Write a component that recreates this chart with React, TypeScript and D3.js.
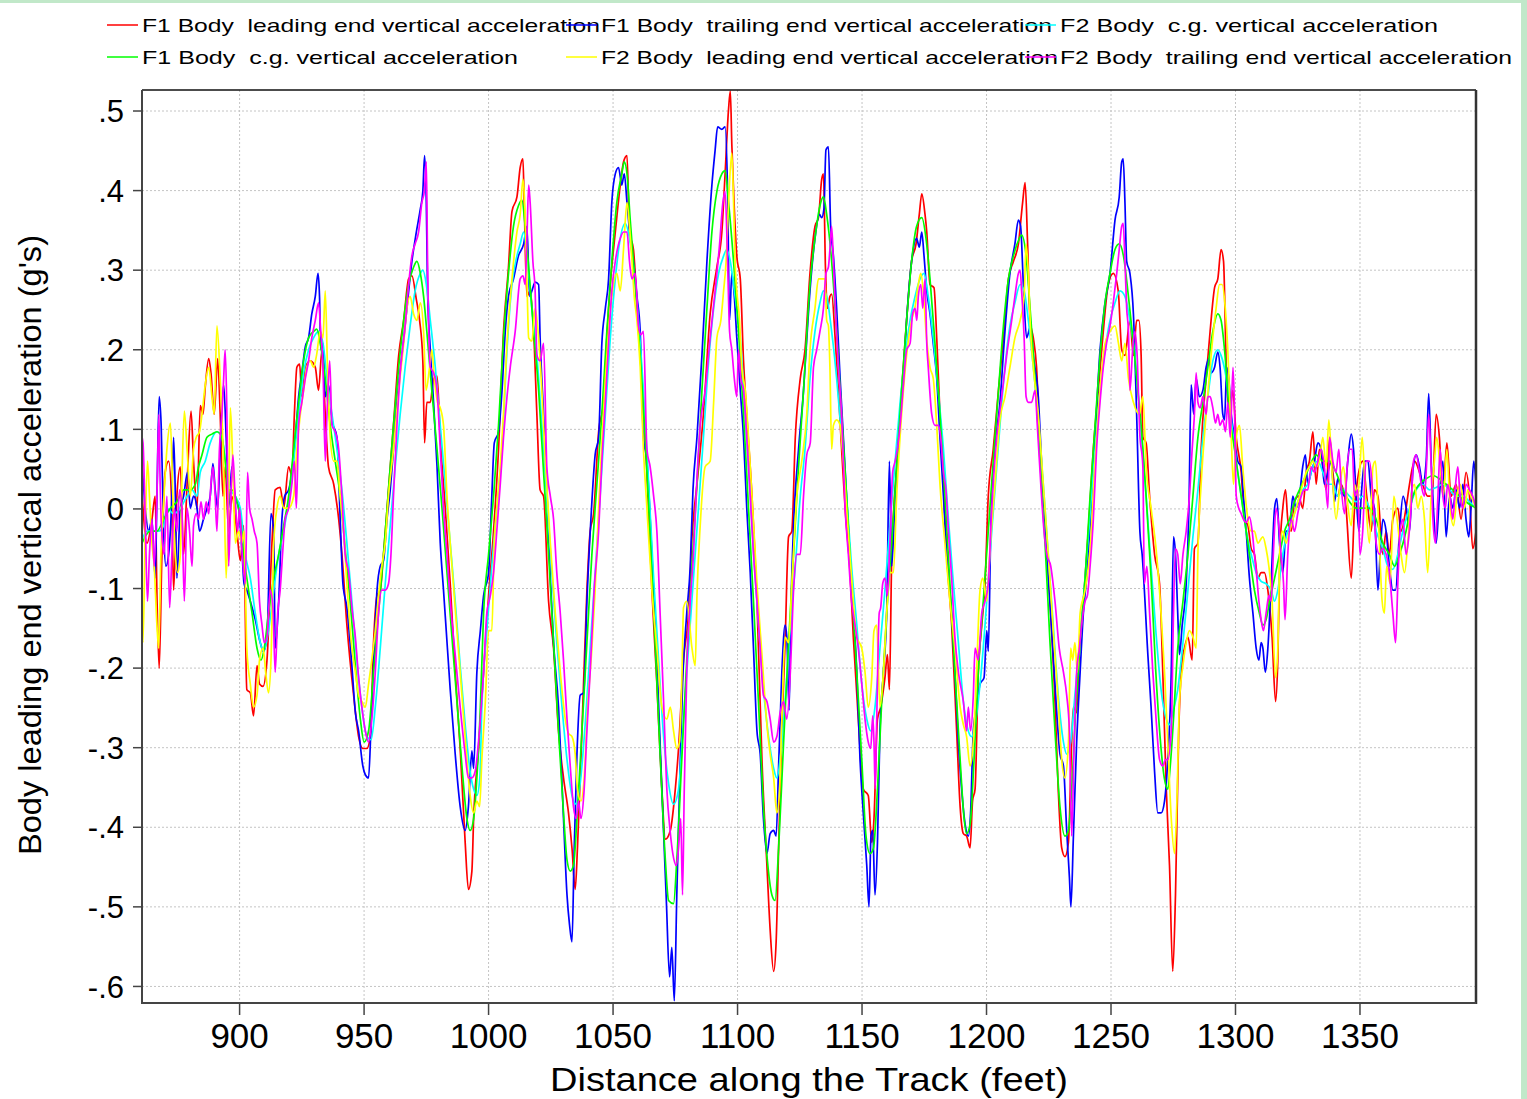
import React from "react";
import * as d3 from "d3";

type Pt = [number, number];

// F1 Body leading end vertical acceleration (red)
const f1Lead: Pt[] = [[860.8,0.02],[862.8,-0.043],[864.8,-0.013],[866.1,0.016],[866.8,-0.109],[867.7,-0.2],[868.8,-0.057],[870.1,0.046],[871.5,0.06],[872.8,0],[873.5,-0.102],[874.8,0.016],[876.2,0.053],[877.5,-0.057],[878.9,0.031],[880.5,0.123],[881.5,0.06],[882.9,0],[884.2,0.13],[885.3,0.119],[886.2,0.153],[887.6,0.189],[888.5,0.171],[889.8,0.119],[891.2,0.189],[892.2,0.119],[893.3,0.016],[894.2,0.053],[895.6,-0.028],[896.9,0.016],[898.9,-0.028],[900.3,-0.065],[901.6,-0.021],[902.9,-0.227],[904.3,-0.231],[905.6,-0.26],[907,-0.197],[908,-0.22],[909.4,-0.223],[911,-0.19],[913,-0.043],[914.3,0.024],[916.3,0.027],[917.7,0.001],[919.7,0.053],[921,0.042],[922,0.119],[923,0.178],[924.1,0.182],[925,0.141],[926.4,0.178],[928.4,0.186],[930.4,0.178],[931.7,0.149],[933.1,0.2],[934.4,0.119],[935.7,0.053],[937.8,0.031],[939.8,-0.013],[941.1,-0.057],[943.1,-0.146],[945.8,-0.234],[947.8,-0.286],[949.5,-0.301],[951.1,-0.301],[952.5,-0.286],[953.8,-0.168],[955.2,-0.109],[956.5,-0.102],[957.8,-0.057],[959.8,0.024],[961.8,0.105],[963.9,0.193],[965.9,0.237],[967.9,0.289],[969.2,0.293],[971,0.263],[972.3,0.237],[973.6,0.186],[974.3,0.083],[975.2,0.134],[976.6,0.134],[977.9,0.164],[979.3,0.167],[980.6,0.09],[982.6,0.001],[984.6,-0.094],[986.6,-0.205],[988.6,-0.301],[990.6,-0.419],[991.9,-0.478],[993.3,-0.455],[994,-0.389],[996,-0.301],[998,-0.205],[1000,-0.109],[1002,-0.028],[1004,0.075],[1006,0.223],[1008,0.304],[1009.4,0.374],[1011.4,0.392],[1012.7,0.429],[1013.8,0.44],[1014.3,0.385],[1015.4,0.267],[1016.7,0.274],[1018.1,0.223],[1019.4,0.119],[1020.7,0.024],[1022.1,0.016],[1024.1,-0.116],[1026.1,-0.175],[1028.1,-0.279],[1030.1,-0.338],[1032.1,-0.382],[1033.5,-0.426],[1034.8,-0.478],[1035.7,-0.426],[1037.5,-0.279],[1039.5,-0.102],[1040.8,-0.028],[1042.2,-0.006],[1044.2,0.097],[1046.2,0.134],[1047.5,0.215],[1048.9,0.282],[1050.9,0.348],[1052.9,0.407],[1054.2,0.436],[1055.6,0.444],[1056.6,0.348],[1058.2,0.326],[1059.6,0.259],[1061.6,0.164],[1063.6,0.046],[1065.6,-0.102],[1067.6,-0.22],[1069.6,-0.352],[1071,-0.415],[1073,-0.404],[1075,-0.352],[1076.3,-0.301],[1078.3,-0.19],[1080.3,-0.131],[1081.7,-0.035],[1083.7,0.031],[1086.3,0.119],[1089,0.245],[1091.7,0.304],[1093.7,0.348],[1095,0.421],[1096.4,0.503],[1097.1,0.525],[1097.7,0.458],[1098.7,0.377],[1099.7,0.318],[1101.1,0.289],[1102.4,0.186],[1103.7,0.119],[1105.8,0.016],[1107.8,-0.116],[1109.8,-0.315],[1111.8,-0.448],[1113.1,-0.529],[1114.5,-0.581],[1115.5,-0.544],[1116.5,-0.426],[1117.8,-0.279],[1119.1,-0.168],[1120.5,-0.035],[1121.8,-0.028],[1123.2,0.09],[1125.2,0.164],[1127.1,0.2],[1129.1,0.296],[1131.1,0.355],[1132.5,0.366],[1133.8,0.414],[1134.5,0.421],[1135.3,0.304],[1136.1,0.252],[1137.1,0.267],[1137.8,0.27],[1139.2,0.215],[1140.5,0.149],[1141.8,0.075],[1143.2,0.001],[1145.2,-0.08],[1146.5,-0.161],[1148.5,-0.264],[1150.5,-0.352],[1152.5,-0.36],[1153.9,-0.419],[1154.8,-0.389],[1156.2,-0.264],[1157.5,-0.249],[1159.2,-0.212],[1160.2,-0.183],[1161,-0.227],[1161.9,-0.065],[1163.9,0.053],[1165.9,0.149],[1167.9,0.237],[1169.9,0.311],[1171.7,0.333],[1173,0.37],[1174,0.396],[1175.3,0.37],[1176,0.348],[1177.3,0.282],[1178.9,0.278],[1180,0.215],[1181.3,0.119],[1182.7,0.031],[1184,-0.057],[1186,-0.146],[1188,-0.279],[1189.4,-0.374],[1190.7,-0.408],[1192,-0.411],[1193.4,-0.426],[1194.4,-0.367],[1195.4,-0.352],[1196.7,-0.205],[1198.1,-0.146],[1199.4,-0.094],[1200.7,0.016],[1202.7,0.075],[1204.8,0.149],[1206.8,0.215],[1208.8,0.289],[1210.8,0.311],[1212.8,0.333],[1214.5,0.385],[1215.5,0.41],[1216.5,0.333],[1217.5,0.237],[1218.8,0.215],[1220.1,0.178],[1221.5,0.075],[1223.5,-0.013],[1225.5,-0.116],[1227.5,-0.242],[1228.8,-0.352],[1230.2,-0.426],[1231.5,-0.437],[1232.9,-0.419],[1234.2,-0.293],[1234.9,-0.249],[1236.2,-0.256],[1237.3,-0.175],[1238.9,-0.116],[1240.9,-0.028],[1242.9,0.075],[1244.9,0.149],[1246.9,0.223],[1248.9,0.282],[1250.9,0.296],[1252.9,0.274],[1254.3,0.2],[1255.6,0.193],[1257.6,0.237],[1259,0.193],[1260.3,0.237],[1261.2,0.237],[1262.1,0.193],[1262.8,0.09],[1264.1,0.083],[1265.5,0.016],[1267.5,-0.057],[1269.5,-0.094],[1270.8,-0.205],[1272.2,-0.352],[1273.5,-0.448],[1274.8,-0.581],[1275.9,-0.485],[1277.2,-0.279],[1278.6,-0.19],[1279.5,-0.175],[1280.9,-0.161],[1282.6,-0.19],[1283.5,-0.05],[1284.9,-0.043],[1286.2,0.075],[1288.2,0.164],[1289.8,0.223],[1291.6,0.278],[1292.9,0.289],[1294.2,0.326],[1295.2,0.311],[1296.3,0.178],[1297.6,0.119],[1298.9,0.149],[1300.3,0.09],[1302.3,0.046],[1303.6,-0.013],[1305,-0.021],[1306.3,-0.05],[1307.6,-0.057],[1309,-0.087],[1310.3,-0.08],[1311.6,-0.08],[1313,-0.102],[1314.7,-0.161],[1316.1,-0.242],[1317,-0.19],[1317.9,-0.05],[1319,0.001],[1320.1,0.024],[1321,-0.013],[1322.4,-0.028],[1323.7,0.009],[1325.4,0.016],[1327,0.001],[1328.4,0.046],[1329.7,0.06],[1331.1,0.097],[1332.4,0.031],[1333.7,0.075],[1335.1,0.053],[1336.4,0.024],[1337.8,0.09],[1339.1,0.046],[1341.1,0.016],[1342.4,0.031],[1344.4,0.001],[1346.5,-0.087],[1347.8,0.001],[1349.1,0.038],[1351.1,0.06],[1352.7,0.016],[1354.5,-0.028],[1355.8,0.024],[1357.2,0.016],[1359.2,-0.057],[1360.5,-0.028],[1361.8,-0.057],[1363.2,-0.013],[1365.2,0.001],[1366.5,-0.028],[1368.5,0.001],[1369.9,0.031],[1371.9,0.06],[1373.9,0.046],[1375.2,0.031],[1377.2,0.016],[1379,0.016],[1380.6,0.119],[1381.9,0.09],[1383.3,0.016],[1384.9,0.083],[1386.6,0.016],[1388.6,0.031],[1390.6,-0.013],[1392.6,0.046],[1394,0.016],[1395.3,-0.05],[1396.6,-0.028]];

// F1 Body trailing end vertical acceleration (blue)
const f1Trail: Pt[] = [[860.8,0.06],[862.1,0.001],[863.5,-0.028],[864.8,-0.013],[866.1,-0.087],[866.8,0.016],[867.7,0.141],[868.5,0.105],[869.5,-0.028],[870.4,-0.072],[871.5,-0.057],[872.8,0.016],[873.5,0.09],[874.2,0.016],[874.8,-0.087],[876.2,0.001],[877.5,0.016],[879.1,0.046],[880.2,0.001],[881.5,0.016],[882.9,0.001],[883.9,-0.028],[885.5,-0.013],[886.9,0.001],[888.2,0.016],[889.3,0.057],[890.2,0.024],[891.2,0.001],[892.2,0.075],[893.6,0.156],[894.6,0.09],[895.6,0.001],[896.9,0.053],[898.2,0.016],[899.6,0.001],[900.9,-0.05],[901.8,-0.094],[902.9,-0.102],[904.3,-0.116],[906.3,-0.139],[908.3,-0.168],[909.6,-0.179],[911,-0.161],[912.6,-0.006],[913.7,-0.028],[914.3,-0.175],[915.7,-0.116],[917,-0.013],[918.1,0.016],[919.7,0.024],[921,0.046],[922.4,0.09],[923.7,0.141],[925,0.171],[926.4,0.204],[927.7,0.215],[929,0.245],[930.4,0.267],[931.5,0.296],[932.1,0.267],[932.6,0.2],[933.5,0.208],[934.4,0.141],[935.7,0.156],[937.1,0.112],[939.1,0.09],[940.4,-0.013],[941.5,-0.094],[943.1,-0.124],[945.1,-0.197],[946.5,-0.256],[947.8,-0.279],[949.5,-0.323],[950.5,-0.334],[951.8,-0.338],[952.8,-0.271],[953.8,-0.197],[955.2,-0.102],[956.5,-0.072],[957.8,-0.065],[959.2,-0.013],[960.5,0.024],[961.8,0.075],[963.2,0.134],[965.2,0.193],[967.2,0.252],[969.2,0.311],[971,0.348],[972.6,0.377],[973.6,0.399],[974.3,0.444],[975,0.385],[975.5,0.274],[976.6,0.2],[977.9,0.134],[979.3,0.053],[980.6,-0.043],[981.9,-0.102],[983,-0.153],[984.6,-0.227],[986.6,-0.308],[988.6,-0.374],[990.6,-0.404],[991.9,-0.374],[993.3,-0.304],[994,-0.326],[995.3,-0.205],[996.7,-0.153],[998,-0.109],[1000,-0.08],[1001.3,0.016],[1002.3,0.083],[1004,0.097],[1005.4,0.149],[1006.7,0.223],[1008,0.267],[1010,0.289],[1012,0.318],[1014.1,0.333],[1015.4,0.355],[1016.5,0.267],[1017.4,0.274],[1018.7,0.285],[1020.1,0.282],[1020.7,0.215],[1022.1,0.119],[1023.4,0.024],[1024.8,-0.087],[1026.1,-0.168],[1028.1,-0.249],[1030.1,-0.389],[1031.5,-0.485],[1032.5,-0.522],[1033.5,-0.544],[1034.4,-0.426],[1035.5,-0.308],[1036.8,-0.234],[1038.2,-0.231],[1039.5,-0.116],[1041.1,-0.013],[1042.8,0.068],[1044.2,0.09],[1045.5,0.208],[1046.9,0.252],[1048.2,0.289],[1049.5,0.385],[1050.9,0.421],[1052.2,0.429],[1053.5,0.407],[1054.5,0.421],[1055.6,0.385],[1056.9,0.34],[1058.2,0.311],[1059.6,0.267],[1060.9,0.223],[1062.2,0.09],[1063.6,0.06],[1065.6,-0.057],[1067.6,-0.19],[1069.6,-0.352],[1071.4,-0.492],[1072.7,-0.588],[1073.6,-0.551],[1074.6,-0.618],[1075.6,-0.485],[1076.7,-0.352],[1078,-0.212],[1079.6,-0.131],[1081,-0.072],[1082.1,0.024],[1083.7,0.09],[1085.7,0.193],[1087.7,0.311],[1089.7,0.407],[1091,0.451],[1092,0.48],[1093.7,0.477],[1095,0.48],[1096,0.399],[1096.8,0.237],[1097.7,0.296],[1098.7,0.267],[1099.7,0.215],[1101.1,0.149],[1102.4,0.09],[1103.7,0.001],[1105.1,-0.08],[1106.4,-0.175],[1107.8,-0.279],[1109.1,-0.308],[1110.4,-0.389],[1111.8,-0.433],[1113.1,-0.408],[1114.5,-0.404],[1115.5,-0.411],[1116.5,-0.323],[1117.8,-0.205],[1119.1,-0.146],[1119.8,-0.161],[1120.7,-0.253],[1121.4,-0.131],[1122.5,-0.021],[1124.5,0.075],[1126.5,0.149],[1127.1,0.178],[1129.1,0.274],[1131.1,0.34],[1132.9,0.37],[1133.8,0.366],[1134.7,0.377],[1135.5,0.451],[1136.5,0.455],[1137.4,0.355],[1138.5,0.318],[1139.8,0.252],[1141.2,0.164],[1142.5,0.09],[1143.8,0.016],[1145.8,-0.094],[1147.9,-0.205],[1149.2,-0.315],[1150.5,-0.382],[1151.9,-0.448],[1152.8,-0.5],[1153.6,-0.411],[1154.3,-0.404],[1155.2,-0.485],[1156.2,-0.419],[1157.2,-0.279],[1158.6,-0.205],[1159.9,-0.131],[1161,0.06],[1161.9,-0.072],[1163.3,0.016],[1165,0.105],[1166.6,0.171],[1167.9,0.237],[1169.9,0.311],[1171.9,0.34],[1173,0.329],[1174,0.348],[1174.9,0.318],[1176,0.274],[1177.3,0.245],[1178.6,0.208],[1180,0.164],[1181.3,0.09],[1182.7,0.016],[1184,-0.057],[1186,-0.131],[1187.3,-0.205],[1188.7,-0.293],[1190,-0.352],[1191.4,-0.396],[1192.7,-0.411],[1193.6,-0.382],[1194.7,-0.279],[1196,-0.249],[1197.4,-0.22],[1199,-0.212],[1200.1,-0.153],[1200.7,-0.179],[1201.7,-0.028],[1203.4,0.075],[1205.4,0.134],[1207.4,0.223],[1209.4,0.296],[1211.4,0.333],[1212.8,0.363],[1213.7,0.355],[1214.8,0.282],[1216.1,0.215],[1217.7,0.23],[1218.8,0.193],[1220.8,0.141],[1222.2,0.053],[1224.2,-0.057],[1226.2,-0.153],[1228.2,-0.256],[1229.5,-0.308],[1230.9,-0.323],[1232.2,-0.404],[1233.3,-0.463],[1233.9,-0.5],[1234.9,-0.411],[1236.2,-0.293],[1237.6,-0.205],[1238.9,-0.131],[1240.2,-0.087],[1241.6,-0.021],[1243.6,0.09],[1245.6,0.2],[1247.6,0.259],[1249.6,0.296],[1251.6,0.363],[1253.3,0.392],[1254.3,0.436],[1254.9,0.44],[1255.6,0.385],[1256.3,0.311],[1257.6,0.296],[1259,0.245],[1260.3,0.119],[1261.6,-0.028],[1262.5,-0.057],[1264.8,-0.183],[1266.1,-0.249],[1267.5,-0.33],[1268.8,-0.382],[1270.1,-0.382],[1271.5,-0.367],[1272.8,-0.315],[1274.2,-0.205],[1275.1,-0.035],[1275.9,-0.057],[1276.8,-0.131],[1277.5,-0.183],[1278.6,-0.146],[1280.2,-0.094],[1281.3,0.001],[1282.2,0.156],[1283.2,0.119],[1284.2,0.164],[1285.5,0.141],[1286.9,0.149],[1288.2,0.178],[1289.3,0.189],[1290.2,0.171],[1291.6,0.178],[1292.9,0.197],[1293.8,0.178],[1294.9,0.119],[1295.6,0.112],[1296.5,0.178],[1297.3,0.164],[1298.3,0.119],[1299.6,0.09],[1300.9,0.06],[1302.3,0.053],[1303.2,0.016],[1304.3,-0.028],[1305.6,-0.087],[1307,-0.131],[1308.3,-0.175],[1309.4,-0.19],[1310.3,-0.168],[1311,-0.175],[1312,-0.205],[1313,-0.175],[1314.3,-0.094],[1315.7,0.001],[1316.6,0.013],[1317.7,-0.043],[1319,-0.08],[1320.3,-0.028],[1321.7,-0.028],[1323,0.016],[1324.4,0.001],[1325.7,0.016],[1327,0.053],[1328.1,0.068],[1329,0.031],[1330.4,0.046],[1331.7,0.06],[1333.1,0.083],[1334.4,0.075],[1335.7,0.031],[1337.1,0.046],[1338.4,0.06],[1339.8,0.009],[1341.1,0.038],[1342.4,0.024],[1343.8,0.016],[1345.1,0.06],[1346.5,0.094],[1347.4,0.075],[1348.5,0.016],[1349.6,-0.028],[1350.5,0.016],[1351.9,0.06],[1353.2,0.06],[1354.5,0.016],[1355.8,0.001],[1357.2,-0.102],[1358.1,-0.057],[1359.2,-0.013],[1360.5,-0.028],[1361.8,-0.072],[1363.2,-0.102],[1364.3,-0.102],[1365.9,-0.028],[1367.3,0.016],[1368.6,0.001],[1369.9,-0.028],[1371.2,0.046],[1372.6,0.068],[1373.9,0.053],[1375.2,0.031],[1376.6,0.06],[1377.6,0.145],[1378.6,0.06],[1379.5,0.001],[1380.6,-0.043],[1381.9,0.016],[1383.3,0.06],[1384.6,-0.035],[1386,0.016],[1387.3,0.001],[1388.6,0.024],[1390,0.001],[1391.3,0.031],[1392.6,-0.013],[1393.7,-0.035],[1394.6,0.001],[1395.7,0.06],[1396.6,0.031]];

// F2 Body c.g. vertical acceleration (cyan)
const f2Cg: Pt[] = [[860.8,-0.039],[862.8,-0.028],[865.5,-0.028],[867.5,-0.028],[869.5,-0.021],[870.8,0.001],[873.5,-0.006],[876.2,0.001],[878.9,0.016],[880.9,0.024],[882.9,0.016],[884.2,0.046],[886.2,0.06],[888.2,0.083],[890.9,0.097],[892.9,0.09],[894.6,0.053],[896.3,0.024],[898.3,0.016],[900.3,0.001],[902.3,-0.057],[904.3,-0.087],[906.3,-0.131],[908.3,-0.168],[909.6,-0.179],[911.6,-0.153],[913.7,-0.102],[915.7,-0.057],[917.7,-0.028],[919.7,0.009],[921.7,0.06],[923.7,0.119],[925.7,0.171],[927.7,0.2],[929.7,0.215],[931.7,0.223],[933.5,0.208],[935.1,0.164],[937.1,0.119],[939.1,0.075],[941.1,0.024],[943.1,-0.043],[945.1,-0.116],[947.1,-0.19],[949.1,-0.249],[951.1,-0.286],[952.8,-0.29],[954.5,-0.249],[956.5,-0.175],[958.5,-0.094],[960.5,-0.021],[962.5,0.053],[964.5,0.119],[966.5,0.178],[968.5,0.23],[970.5,0.274],[972.6,0.296],[973.6,0.3],[975,0.282],[976.6,0.237],[978.6,0.178],[980.6,0.105],[982.6,0.031],[984.6,-0.043],[986.6,-0.116],[988.6,-0.197],[990.6,-0.271],[992.6,-0.33],[994,-0.352],[995.3,-0.36],[996.5,-0.338],[997.3,-0.249],[999.3,-0.153],[1001.3,-0.072],[1003.3,0.001],[1005.4,0.075],[1007.4,0.2],[1009.4,0.282],[1011.4,0.318],[1012.7,0.333],[1014.1,0.348],[1015.4,0.318],[1017.4,0.252],[1019.4,0.193],[1021.4,0.105],[1023.4,0.016],[1025.4,-0.08],[1027.4,-0.168],[1029.5,-0.249],[1031.5,-0.315],[1033.5,-0.36],[1035.2,-0.371],[1036.8,-0.345],[1038.8,-0.271],[1040.8,-0.175],[1042.8,-0.08],[1044.8,0.016],[1046.9,0.119],[1048.9,0.215],[1050.9,0.289],[1052.9,0.34],[1054.9,0.359],[1056.6,0.34],[1058.5,0.296],[1060.2,0.237],[1062.2,0.149],[1064.3,0.031],[1066.3,-0.087],[1068.3,-0.19],[1070.3,-0.286],[1072.3,-0.345],[1074.3,-0.371],[1076.3,-0.352],[1078.3,-0.264],[1080.3,-0.175],[1082.3,-0.087],[1084.3,0.001],[1086.3,0.09],[1088.4,0.186],[1090.4,0.252],[1092.4,0.296],[1094.4,0.318],[1095.7,0.326],[1097.1,0.311],[1099,0.267],[1101.1,0.215],[1103.1,0.119],[1105.1,0.016],[1107.1,-0.087],[1109.1,-0.175],[1111.1,-0.249],[1113.1,-0.301],[1114.5,-0.326],[1115.8,-0.338],[1117.1,-0.315],[1119.1,-0.242],[1121.2,-0.146],[1123.2,-0.072],[1125.2,0.016],[1127.1,0.075],[1129.1,0.164],[1131.1,0.223],[1133.1,0.259],[1134.5,0.274],[1135.8,0.267],[1137.8,0.223],[1139.8,0.164],[1141.8,0.09],[1143.8,0.016],[1145.8,-0.072],[1147.9,-0.146],[1149.9,-0.22],[1151.9,-0.264],[1153.5,-0.279],[1155.2,-0.249],[1157.2,-0.175],[1159.2,-0.102],[1161.2,-0.021],[1163.3,0.06],[1165.3,0.134],[1167.3,0.193],[1169.3,0.237],[1171.3,0.267],[1173.3,0.289],[1174.9,0.296],[1176.6,0.267],[1178.6,0.215],[1180.6,0.149],[1182.7,0.075],[1184.7,-0.013],[1186.7,-0.094],[1188.7,-0.168],[1190.7,-0.242],[1192.7,-0.279],[1194,-0.286],[1195.8,-0.264],[1197.4,-0.22],[1199.4,-0.146],[1201.4,-0.057],[1203.4,0.024],[1205.4,0.105],[1207.4,0.178],[1209.4,0.23],[1211.4,0.259],[1213.5,0.282],[1215.1,0.274],[1216.8,0.237],[1218.8,0.178],[1220.8,0.112],[1222.8,0.031],[1224.8,-0.057],[1226.8,-0.146],[1228.8,-0.234],[1230.9,-0.293],[1232.2,-0.308],[1233.8,-0.293],[1235.5,-0.234],[1237.6,-0.161],[1239.6,-0.087],[1241.6,-0.006],[1243.6,0.075],[1245.6,0.149],[1247.6,0.2],[1249.6,0.237],[1251.6,0.259],[1253.6,0.274],[1255.6,0.267],[1257.6,0.237],[1259.6,0.193],[1262.1,0.098],[1264.1,0.016],[1266.1,-0.072],[1268,-0.153],[1270.1,-0.227],[1272.2,-0.264],[1273.5,-0.271],[1274.8,-0.256],[1276.8,-0.227],[1278.9,-0.168],[1280.9,-0.102],[1282.9,-0.035],[1284.9,0.024],[1286.9,0.09],[1288.9,0.141],[1290.9,0.186],[1292.9,0.2],[1294.2,0.193],[1296.3,0.164],[1298.3,0.112],[1300.3,0.06],[1302.3,0.016],[1304.3,-0.028],[1306.3,-0.057],[1308.3,-0.08],[1310.3,-0.091],[1312.3,-0.094],[1314.3,-0.102],[1315.7,-0.116],[1317,-0.102],[1319,-0.057],[1321,-0.028],[1323,-0.013],[1325,0.009],[1327,0.024],[1329,0.031],[1331.1,0.053],[1333.1,0.06],[1335.1,0.046],[1337.1,0.031],[1339.1,0.031],[1341.1,0.016],[1343.1,0.024],[1345.8,0.016],[1348.5,0.009],[1351.1,0.016],[1353.8,0.001],[1356.5,-0.028],[1359.2,-0.05],[1361.2,-0.072],[1363.2,-0.076],[1365.2,-0.057],[1367.2,-0.028],[1369.9,0.001],[1372.6,0.024],[1375.2,0.031],[1377.9,0.024],[1380.6,0.027],[1383.3,0.031],[1386,0.024],[1388.6,0.016],[1391.4,0.016],[1394,0.009],[1396.6,0.001]];

// F1 Body c.g. vertical acceleration (green)
const f1Cg: Pt[] = [[860.8,-0.043],[864.1,-0.028],[866.8,-0.028],[869.5,-0.013],[872.2,0.001],[874.8,0.009],[877.5,0.024],[880.2,0.024],[882.2,0.031],[883.5,0.053],[884.9,0.068],[886.9,0.09],[888.9,0.094],[890.9,0.097],[892.9,0.09],[894.2,0.06],[895.6,0.024],[896.9,0.024],[898.9,0.009],[900.3,-0.013],[901.6,-0.057],[902.9,-0.087],[905,-0.131],[907,-0.175],[908.6,-0.19],[909.9,-0.175],[911.6,-0.131],[913.7,-0.087],[915.7,-0.057],[917.7,-0.021],[919.7,0.016],[921.7,0.075],[923.7,0.134],[925.7,0.186],[927.7,0.215],[929.7,0.223],[931,0.226],[932.4,0.208],[934.4,0.164],[936.4,0.105],[938.4,0.06],[940.4,0.016],[942.4,-0.05],[944.4,-0.116],[946.5,-0.197],[948.5,-0.264],[950,-0.293],[951.8,-0.279],[953.8,-0.205],[955.8,-0.131],[957.8,-0.057],[959.8,0.024],[961.8,0.105],[963.9,0.178],[965.9,0.237],[967.9,0.282],[969.9,0.304],[971.2,0.311],[972.6,0.296],[973.9,0.267],[975.2,0.223],[977.2,0.149],[979.3,0.075],[981.3,0.001],[983.3,-0.08],[985.3,-0.161],[987.3,-0.242],[989.3,-0.323],[991.3,-0.389],[992.6,-0.404],[994,-0.389],[995.3,-0.338],[996.7,-0.249],[998,-0.131],[1000,-0.057],[1002,0.016],[1004,0.105],[1006,0.215],[1008,0.296],[1010,0.355],[1012,0.381],[1013.4,0.388],[1014.7,0.355],[1016.1,0.304],[1018.1,0.223],[1020.1,0.149],[1022.1,0.046],[1024.1,-0.057],[1026.1,-0.168],[1028.1,-0.279],[1030.1,-0.382],[1031.5,-0.441],[1032.8,-0.455],[1034.1,-0.448],[1035.5,-0.389],[1037.5,-0.279],[1039.5,-0.168],[1041.5,-0.057],[1043.5,0.031],[1045.5,0.119],[1047.5,0.223],[1049.5,0.311],[1051.5,0.385],[1053.5,0.421],[1054.5,0.436],[1055.6,0.421],[1056.9,0.363],[1058.9,0.282],[1060.9,0.193],[1062.9,0.09],[1064.9,-0.035],[1066.9,-0.168],[1069,-0.315],[1071,-0.441],[1072.3,-0.492],[1074.3,-0.496],[1075.6,-0.441],[1077.6,-0.315],[1079.6,-0.19],[1081.7,-0.072],[1083.7,0.031],[1085.7,0.149],[1087.7,0.252],[1089.7,0.348],[1091.7,0.399],[1093.7,0.421],[1095,0.425],[1096.4,0.385],[1098.4,0.311],[1100.4,0.223],[1102.4,0.119],[1104.4,0.001],[1106.4,-0.116],[1108.4,-0.242],[1110.4,-0.374],[1112.4,-0.455],[1113.8,-0.485],[1115.1,-0.492],[1116.5,-0.426],[1118.5,-0.293],[1120.5,-0.168],[1122.5,-0.057],[1124.5,0.053],[1126.5,0.149],[1129.1,0.282],[1131.1,0.34],[1133.1,0.381],[1134.5,0.392],[1135.8,0.37],[1137.8,0.311],[1139.8,0.223],[1141.8,0.119],[1143.8,0.016],[1145.8,-0.094],[1147.9,-0.205],[1149.9,-0.315],[1151.6,-0.411],[1153.2,-0.433],[1154.6,-0.426],[1156.2,-0.352],[1157.9,-0.242],[1159.9,-0.131],[1161.9,-0.043],[1163.9,0.053],[1165.9,0.149],[1167.9,0.237],[1169.9,0.311],[1171.9,0.355],[1174,0.366],[1175.7,0.34],[1177.3,0.289],[1179.3,0.208],[1181.3,0.119],[1183.3,0.016],[1185.3,-0.094],[1187.3,-0.205],[1189.4,-0.315],[1191,-0.389],[1192,-0.408],[1193.4,-0.396],[1195,-0.315],[1196.7,-0.205],[1198.7,-0.116],[1200.7,-0.028],[1202.7,0.06],[1204.8,0.149],[1206.8,0.23],[1208.8,0.289],[1210.8,0.318],[1212.8,0.337],[1214.1,0.344],[1215.9,0.318],[1217.5,0.252],[1219.5,0.164],[1221.5,0.06],[1223.5,-0.043],[1225.5,-0.168],[1227.5,-0.279],[1229.5,-0.374],[1231.5,-0.411],[1232.9,-0.404],[1234.2,-0.352],[1235.9,-0.249],[1237.6,-0.168],[1239.6,-0.087],[1241.6,0.016],[1243.6,0.105],[1245.6,0.193],[1247.6,0.259],[1249.6,0.296],[1251.6,0.326],[1253.3,0.333],[1255,0.318],[1257,0.267],[1259,0.208],[1261,0.141],[1262.1,0.105],[1264.1,0.016],[1266.1,-0.087],[1268,-0.205],[1270.1,-0.301],[1271.4,-0.338],[1272.8,-0.352],[1273.8,-0.323],[1275.1,-0.264],[1276.8,-0.175],[1278.9,-0.116],[1280.9,-0.057],[1282.9,0.016],[1284.9,0.09],[1286.9,0.134],[1288.9,0.178],[1290.9,0.223],[1292.9,0.245],[1294.2,0.237],[1295.6,0.2],[1297.6,0.119],[1299.6,0.075],[1301.6,0.031],[1303.6,-0.013],[1305.6,-0.057],[1307.6,-0.102],[1309.6,-0.131],[1311,-0.146],[1312.3,-0.139],[1313.7,-0.116],[1315.7,-0.087],[1317.7,-0.057],[1319.7,-0.028],[1321.7,-0.013],[1323.7,0.009],[1325.7,0.024],[1327.7,0.038],[1329.7,0.053],[1332.4,0.068],[1335.1,0.06],[1337.8,0.06],[1340.4,0.046],[1343.1,0.024],[1345.8,0.009],[1348.5,0.001],[1351.1,0.001],[1353.8,0.001],[1356.5,-0.013],[1359.2,-0.043],[1361.8,-0.057],[1363.9,-0.072],[1365.9,-0.057],[1368.5,-0.028],[1371.2,0.016],[1373.9,0.031],[1376.6,0.038],[1379.3,0.042],[1381.9,0.038],[1384.6,0.031],[1387.3,0.024],[1390,0.016],[1392.6,0.009],[1396.6,0.001]];

// F2 Body leading end vertical acceleration (yellow)
const f2Lead: Pt[] = [[860.8,-0.146],[861.2,-0.168],[862.1,-0.028],[863,0.06],[863.8,0.016],[864.8,-0.043],[865.7,-0.072],[866.8,-0.146],[867.5,-0.175],[868.4,-0.057],[869.5,0.009],[870.8,0.075],[872.2,0.108],[873.2,0.016],[874.2,-0.057],[875.1,-0.08],[876.2,-0.057],[876.8,0.031],[877.8,0.123],[878.9,0.075],[880.2,0.016],[881.5,0.075],[882.6,0.09],[883.9,0.097],[884.9,0.119],[886.2,0.156],[887.6,0.178],[888.9,0.141],[889.8,0.119],[890.9,0.23],[892.2,0.164],[893.6,0.053],[894.6,-0.087],[895.6,0.016],[896.3,0.127],[897.3,0.053],[898.3,-0.043],[899.6,-0.028],[900.9,-0.043],[901.8,-0.028],[902.9,-0.175],[904.3,-0.22],[905.6,-0.249],[907,-0.234],[908,-0.19],[909.4,-0.175],[910.7,-0.212],[911.6,-0.231],[912.6,-0.19],[913.7,-0.043],[915,0.001],[916.3,0.016],[917.7,0.001],[919.7,0.001],[921.7,0.016],[923,0.075],[924.4,0.119],[925.7,0.149],[927,0.178],[928.4,0.186],[929.7,0.178],[930.9,0.193],[932.4,0.223],[933.5,0.215],[934.4,0.274],[935.3,0.178],[936.4,0.09],[937.8,0.06],[939.1,0.06],[940.4,0.016],[941.8,-0.028],[943.1,-0.094],[945.1,-0.175],[946.5,-0.205],[947.8,-0.234],[949.1,-0.242],[950.5,-0.249],[951.8,-0.22],[953.1,-0.19],[954.5,-0.153],[955.8,-0.109],[957.1,-0.072],[958.5,-0.043],[959.8,0.016],[961.8,0.075],[963.9,0.149],[965.9,0.208],[967.2,0.252],[968.5,0.267],[969.9,0.245],[971.2,0.237],[972.6,0.259],[973.9,0.223],[974.9,0.149],[976.3,0.178],[977.2,0.2],[978.2,0.164],[979.5,0.134],[980.6,0.127],[981.9,0.105],[983.3,0.016],[985.3,-0.072],[987.3,-0.153],[989.3,-0.234],[991.3,-0.315],[992.6,-0.36],[994,-0.382],[995.3,-0.367],[996.4,-0.374],[997.3,-0.315],[998.7,-0.242],[1000,-0.153],[1001.3,-0.153],[1002.3,-0.043],[1003.3,0.001],[1004.7,0.053],[1006,0.119],[1007.4,0.208],[1009.4,0.289],[1011.4,0.348],[1012.7,0.37],[1013.8,0.414],[1014.5,0.385],[1015.4,0.289],[1016.1,0.215],[1017.4,0.211],[1018.7,0.252],[1020.1,0.215],[1021.4,0.149],[1022.8,0.06],[1024.8,-0.043],[1026.8,-0.131],[1028.8,-0.205],[1030.8,-0.264],[1032.1,-0.282],[1033.5,-0.286],[1034.8,-0.308],[1035.7,-0.352],[1037.1,-0.367],[1038.4,-0.338],[1039.8,-0.249],[1041.5,-0.175],[1042.8,-0.102],[1044.2,0.001],[1045.5,0.083],[1046.9,0.164],[1048.2,0.223],[1049.5,0.267],[1051.5,0.296],[1052.9,0.274],[1054.2,0.326],[1055.6,0.385],[1056.6,0.355],[1057.6,0.311],[1058.5,0.267],[1059.6,0.237],[1060.9,0.178],[1062.2,0.075],[1063.6,0.001],[1065.6,-0.102],[1067.6,-0.175],[1069.6,-0.249],[1071.6,-0.264],[1073,-0.249],[1074.3,-0.279],[1075.6,-0.301],[1076.7,-0.293],[1077.7,-0.205],[1078.3,-0.124],[1079.6,-0.116],[1081.7,-0.175],[1083,-0.197],[1083.7,-0.109],[1085,-0.021],[1087,0.053],[1089,0.06],[1090.4,0.134],[1091.7,0.215],[1093.3,0.237],[1094.4,0.274],[1095.4,0.311],[1096.4,0.385],[1097.7,0.447],[1098.4,0.385],[1099,0.311],[1099.7,0.274],[1100.8,0.237],[1101.7,0.178],[1103.1,0.149],[1104.4,0.09],[1105.8,0.016],[1107.8,-0.094],[1109.8,-0.183],[1111.8,-0.271],[1113.1,-0.308],[1114.5,-0.338],[1115.8,-0.382],[1116.9,-0.352],[1117.8,-0.264],[1119.1,-0.161],[1120.5,-0.168],[1121.8,-0.094],[1123.8,0.016],[1125.8,0.06],[1127.8,0.119],[1129.1,0.2],[1131.1,0.252],[1132.5,0.289],[1133.8,0.289],[1135.1,0.289],[1135.8,0.237],[1136.5,0.23],[1137.1,0.178],[1137.8,0.075],[1138.5,0.105],[1139.8,0.112],[1141.2,0.105],[1142.5,0.06],[1143.8,0.001],[1145.8,-0.087],[1147.9,-0.161],[1149.9,-0.175],[1151.2,-0.205],[1152.5,-0.249],[1153.9,-0.212],[1154.8,-0.153],[1155.9,-0.146],[1157.2,-0.249],[1158.6,-0.205],[1159.9,-0.131],[1161.2,-0.08],[1162.6,-0.08],[1163.9,0.016],[1165.9,0.119],[1167.9,0.193],[1169.9,0.237],[1171.2,0.252],[1172.6,0.282],[1173.6,0.296],[1174.6,0.274],[1175.7,0.223],[1177.3,0.178],[1178.6,0.164],[1180,0.105],[1181.3,0.031],[1183.3,-0.043],[1185.3,-0.116],[1187.3,-0.175],[1189.4,-0.249],[1190.7,-0.271],[1192,-0.286],[1193.4,-0.323],[1194.7,-0.293],[1196,-0.205],[1197.4,-0.102],[1198.5,-0.087],[1200.1,-0.116],[1201.4,-0.05],[1203.4,0.031],[1205.4,0.112],[1207.4,0.141],[1209.4,0.178],[1211.4,0.215],[1213.5,0.237],[1215.1,0.267],[1215.9,0.333],[1216.8,0.296],[1217.7,0.223],[1218.8,0.178],[1220.8,0.119],[1222.8,0.031],[1224.8,-0.057],[1226.8,-0.153],[1228.8,-0.242],[1230.2,-0.315],[1231.5,-0.338],[1232.9,-0.293],[1233.8,-0.175],[1234.6,-0.19],[1235.5,-0.168],[1236.5,-0.205],[1237.6,-0.131],[1239.6,-0.102],[1241.6,-0.05],[1243.6,0.06],[1245.6,0.149],[1247.6,0.208],[1249.6,0.223],[1251.6,0.23],[1253,0.208],[1254.3,0.186],[1255.6,0.208],[1257,0.164],[1259,0.134],[1261.4,0.119],[1262.8,0.141],[1264.1,0.053],[1266.1,0.001],[1268.1,-0.05],[1270.1,-0.131],[1271.5,-0.205],[1272.8,-0.293],[1274.2,-0.389],[1275.5,-0.433],[1276.4,-0.374],[1277.5,-0.242],[1278.9,-0.197],[1280.2,-0.168],[1281.5,-0.153],[1282.9,-0.161],[1284.2,-0.175],[1284.9,-0.057],[1286.2,0.031],[1288.2,0.119],[1290.2,0.193],[1292.2,0.252],[1293.6,0.282],[1294.6,0.282],[1295.9,0.252],[1296.9,0.2],[1298.3,0.09],[1299.2,0.031],[1300.3,0.09],[1301.6,0.105],[1302.9,0.053],[1305,-0.013],[1306.3,-0.028],[1307.6,-0.028],[1309,-0.043],[1311,-0.035],[1312.3,-0.05],[1313.4,-0.072],[1314.7,-0.116],[1316.1,-0.212],[1317,-0.175],[1317.9,-0.043],[1319,-0.028],[1320.3,-0.043],[1321.7,-0.028],[1323,-0.013],[1324.4,0.001],[1325.7,0.016],[1327,0.031],[1328.4,0.046],[1329.7,0.053],[1331.1,0.06],[1332.4,0.053],[1333.7,0.06],[1335.1,0.09],[1336.4,0.053],[1337.5,0.112],[1338.8,0.046],[1340.4,-0.013],[1342,0.031],[1343.3,0.053],[1344.7,0.016],[1346.5,-0.021],[1347.8,0.031],[1349.1,0.016],[1350.9,0.09],[1352.2,0.016],[1353.8,-0.043],[1355.2,0.053],[1356.2,0.06],[1357.6,-0.028],[1358.9,-0.116],[1359.8,-0.131],[1360.7,-0.072],[1362.1,-0.094],[1363.6,0.016],[1364.9,-0.013],[1366.5,-0.057],[1367.9,-0.08],[1369.2,-0.043],[1370.5,0.016],[1371.9,0.031],[1373.2,0.001],[1374.6,0.016],[1375.9,-0.013],[1377.2,-0.08],[1378.6,0.016],[1379.9,0.06],[1380.8,0.09],[1382.2,0.053],[1383.5,0.016],[1384.9,0.075],[1386.2,0.001],[1387.6,-0.021],[1388.9,0.016],[1390.3,0.031],[1392,0.001],[1393.3,0.024],[1394.6,0.016],[1396.6,0.001]];

// F2 Body trailing end vertical acceleration (magenta)
const f2Trail: Pt[] = [[860.8,0.09],[861.2,0.083],[862.1,-0.013],[863,-0.116],[863.8,-0.057],[864.8,-0.013],[865.7,-0.072],[866.8,0.016],[867.6,0.119],[868,0.046],[868.7,-0.028],[869.7,-0.057],[870.8,0.016],[871.9,-0.124],[872.8,-0.057],[873.8,0.001],[874.8,-0.028],[875.9,0.024],[876.8,0.001],[877.8,-0.116],[878.9,0.001],[879.9,-0.028],[880.9,-0.072],[881.5,-0.021],[882.6,-0.006],[883.5,-0.013],[884.5,0.009],[885.5,-0.013],[886.6,0.009],[887.6,-0.006],[888.5,0.031],[889.3,0.053],[890.2,0.016],[890.9,-0.028],[891.9,0.075],[892.9,0.119],[893.6,0.164],[894.2,0.2],[894.9,0.119],[895.6,-0.072],[896.3,-0.006],[897.3,0.068],[898.2,0.016],[899.2,-0.028],[900,0.001],[900.9,-0.05],[902.3,-0.094],[903.2,0.046],[904,0.001],[905,-0.013],[905.9,-0.028],[907,-0.043],[908,-0.116],[909,-0.146],[909.9,-0.168],[911,-0.161],[912.3,-0.102],[913.4,-0.124],[914.3,-0.205],[915.3,-0.131],[916.3,-0.102],[917.4,-0.05],[918.3,-0.013],[919.7,0.001],[921,0.031],[922,0.06],[922.8,0.001],[923.7,0.105],[925,0.134],[926.4,0.164],[927.7,0.186],[929,0.215],[930.4,0.237],[931.7,0.259],[932.6,0.223],[933.5,0.178],[934.4,0.06],[935.1,0.119],[936.2,0.186],[937.1,0.105],[938.4,0.097],[939.8,0.075],[941.1,0.016],[942.4,-0.057],[943.8,-0.08],[945.1,-0.124],[946.5,-0.161],[947.8,-0.212],[949.1,-0.249],[950.5,-0.279],[951.8,-0.293],[953.1,-0.264],[954.5,-0.205],[955.8,-0.131],[957.1,-0.102],[958.5,-0.102],[959.8,-0.094],[960.8,-0.057],[961.8,0.016],[963.2,0.105],[964.5,0.171],[966.5,0.23],[967.9,0.282],[969.2,0.318],[970.5,0.333],[971.9,0.348],[973.2,0.385],[974.2,0.399],[975,0.436],[975.5,0.311],[976.6,0.178],[977.9,0.171],[979.3,0.149],[980.6,0.075],[981.9,0.001],[983.3,-0.057],[984.6,-0.116],[986.6,-0.183],[988.6,-0.249],[990.6,-0.308],[991.9,-0.338],[993.3,-0.338],[994.6,-0.33],[996.7,-0.264],[998,-0.205],[999.3,-0.131],[1000.7,-0.109],[1002,-0.08],[1003.3,-0.028],[1004.7,0.031],[1006,0.09],[1007.4,0.141],[1008.7,0.178],[1010.7,0.223],[1012.7,0.289],[1013.8,0.293],[1014.7,0.282],[1015.4,0.34],[1016.1,0.407],[1016.7,0.385],[1017.8,0.311],[1018.7,0.274],[1019.4,0.193],[1020.7,0.186],[1022.1,0.208],[1023.4,0.053],[1024.8,0.016],[1026.1,-0.013],[1027.4,-0.08],[1028.8,-0.131],[1030.1,-0.19],[1031.5,-0.264],[1032.8,-0.323],[1034.1,-0.374],[1035.2,-0.389],[1036.1,-0.367],[1037.1,-0.389],[1038.4,-0.352],[1039.5,-0.279],[1040.8,-0.205],[1042.4,-0.102],[1044.2,-0.028],[1045.5,0.06],[1046.9,0.134],[1048.2,0.208],[1049.5,0.274],[1050.9,0.311],[1052.9,0.34],[1054.2,0.348],[1055.6,0.348],[1056.6,0.311],[1057.6,0.289],[1058.9,0.296],[1060.2,0.23],[1061.2,0.219],[1062.2,0.223],[1063.6,0.075],[1064.9,0.053],[1066.3,0.016],[1067.6,-0.028],[1068.9,-0.131],[1070.3,-0.242],[1071.6,-0.352],[1072.9,-0.404],[1074,-0.433],[1075.4,-0.448],[1076.3,-0.426],[1077.2,-0.389],[1077.9,-0.485],[1078.6,-0.352],[1079.6,-0.205],[1081,-0.116],[1082.3,-0.057],[1083.7,0.038],[1085,0.105],[1087,0.149],[1089,0.215],[1091,0.274],[1092.8,0.333],[1094.1,0.385],[1095,0.399],[1096,0.311],[1096.8,0.223],[1097.7,0.2],[1098.7,0.164],[1099.7,0.141],[1100.4,0.2],[1101.3,0.164],[1102.4,0.149],[1103.7,0.09],[1105.1,0.016],[1106.4,-0.057],[1107.8,-0.116],[1109.1,-0.175],[1110.4,-0.234],[1111.8,-0.242],[1113.1,-0.264],[1114.5,-0.293],[1115.8,-0.286],[1117.1,-0.256],[1118.5,-0.242],[1119.8,-0.264],[1121.2,-0.205],[1122.5,-0.102],[1123.8,-0.057],[1125.2,-0.057],[1126.5,0.016],[1127.8,0.068],[1129.2,0.083],[1130.5,0.178],[1131.8,0.2],[1133.1,0.223],[1134.5,0.252],[1135.5,0.296],[1136.5,0.304],[1137.1,0.326],[1137.8,0.355],[1138.5,0.311],[1139.5,0.237],[1140.5,0.178],[1141.8,0.119],[1143.2,0.001],[1144.5,-0.057],[1145.8,-0.116],[1147.2,-0.146],[1148.5,-0.175],[1149.9,-0.22],[1151.2,-0.264],[1152.5,-0.293],[1153.5,-0.301],[1154.3,-0.26],[1154.8,-0.293],[1155.3,-0.352],[1155.9,-0.264],[1156.9,-0.131],[1157.5,-0.124],[1158.3,-0.094],[1159.2,-0.087],[1160.2,-0.109],[1161.2,-0.043],[1162.3,0.046],[1163.3,0.06],[1164.2,0.075],[1165.3,0.105],[1166.6,0.156],[1167.9,0.2],[1169.3,0.208],[1170.3,0.245],[1171.3,0.252],[1172,0.237],[1172.6,0.267],[1173.6,0.282],[1174.4,0.252],[1175.3,0.289],[1176,0.208],[1176.6,0.178],[1178,0.119],[1179.3,0.105],[1180.7,0.105],[1181.6,0.09],[1182.7,0.046],[1183.7,0.024],[1184.7,-0.028],[1186,-0.087],[1187.3,-0.161],[1188.7,-0.205],[1190.7,-0.242],[1192,-0.279],[1192.7,-0.249],[1193.6,-0.279],[1194.7,-0.234],[1195.4,-0.175],[1196.7,-0.19],[1198.1,-0.131],[1199.4,-0.116],[1200.7,-0.094],[1202.1,0.001],[1204.1,0.09],[1206.1,0.141],[1208.1,0.193],[1210.1,0.237],[1211.4,0.267],[1212.8,0.296],[1213.5,0.3],[1214.1,0.274],[1215.1,0.215],[1215.9,0.141],[1216.8,0.134],[1218.1,0.134],[1219.5,0.149],[1220.4,0.105],[1221.8,0.031],[1223.1,-0.028],[1224.2,-0.057],[1225.8,-0.072],[1227.5,-0.116],[1229.2,-0.175],[1230.9,-0.205],[1232.2,-0.234],[1233.3,-0.279],[1234.2,-0.411],[1235.1,-0.308],[1236.2,-0.205],[1237.3,-0.175],[1238.2,-0.146],[1239.6,-0.116],[1240.5,-0.109],[1241.6,-0.072],[1242.9,-0.013],[1244.2,0.075],[1245.6,0.134],[1246.9,0.178],[1248.2,0.208],[1249.6,0.23],[1250.9,0.259],[1252.3,0.296],[1253.3,0.326],[1254.3,0.355],[1254.9,0.359],[1255.6,0.311],[1256.3,0.252],[1257,0.223],[1257.6,0.149],[1258.7,0.2],[1259.6,0.223],[1260.6,0.186],[1261.5,0.098],[1262.8,0.053],[1263.4,-0.094],[1264.4,-0.072],[1265.5,-0.131],[1266.8,-0.205],[1268.1,-0.264],[1269.5,-0.315],[1270.8,-0.323],[1271.9,-0.315],[1272.8,-0.315],[1274.2,-0.279],[1275.1,-0.131],[1275.9,-0.05],[1276.8,-0.057],[1277.8,-0.094],[1278.9,-0.057],[1280.2,-0.028],[1281.5,0.016],[1282.6,0.075],[1283.5,0.119],[1284.2,0.171],[1284.9,0.134],[1285.8,0.127],[1286.9,0.141],[1288.2,0.119],[1288.9,0.141],[1289.8,0.141],[1290.9,0.127],[1292,0.108],[1292.9,0.119],[1293.8,0.105],[1294.9,0.112],[1296,0.097],[1296.9,0.134],[1297.9,0.09],[1299,0.178],[1299.6,0.127],[1300.3,0.016],[1301.3,0.001],[1302.3,-0.006],[1303.2,-0.013],[1304.3,-0.017],[1305.6,-0.01],[1306.7,-0.028],[1307.6,-0.057],[1308.6,-0.087],[1309.4,-0.116],[1310.3,-0.139],[1311.2,-0.153],[1312.3,-0.131],[1313.4,-0.109],[1314.3,-0.116],[1315.3,-0.05],[1316.3,0.001],[1317.4,-0.021],[1318.3,-0.057],[1319.3,-0.094],[1319.9,-0.139],[1321,-0.057],[1322.4,-0.013],[1323.7,-0.028],[1325,-0.006],[1326.4,0.016],[1327.7,0.024],[1329,0.024],[1330.4,0.053],[1331.7,0.046],[1333.1,0.06],[1334.4,0.075],[1335.7,0.053],[1337.1,0.001],[1337.8,0.09],[1339.1,0.06],[1340.4,0.046],[1341.5,0.075],[1342.4,0.031],[1343.8,-0.006],[1344.7,0.046],[1345.8,0.075],[1346.9,0.075],[1347.8,0.016],[1349.1,0.024],[1350,-0.057],[1351.1,-0.028],[1352.4,0.06],[1353.8,0.06],[1355.2,0.016],[1356.5,-0.043],[1357.8,-0.057],[1359.2,-0.05],[1360.5,-0.057],[1361.8,-0.08],[1363.2,-0.131],[1364.3,-0.168],[1365.2,-0.094],[1366.1,-0.028],[1367.2,-0.013],[1368.5,-0.057],[1369.6,-0.035],[1370.5,0.001],[1371.5,0.06],[1372.6,0.068],[1373.9,0.046],[1375,0.024],[1375.9,0.016],[1376.8,0.06],[1377.6,0.119],[1378.6,0.053],[1379.3,-0.013],[1380.3,-0.043],[1381.3,0.016],[1382.2,0.075],[1383.3,0.016],[1384.3,0.001],[1385.2,0.031],[1386.2,0.016],[1387.3,-0.013],[1388.4,0.031],[1389.3,0.053],[1390.2,0.016],[1391.3,0.001],[1392.6,0.031],[1394,0.024],[1395.3,0.016],[1396.6,0.001]];

const seriesLabels = [
  "F1 Body  leading end vertical acceleration",
  "F1 Body  trailing end vertical acceleration",
  "F2 Body  c.g. vertical acceleration",
  "F1 Body  c.g. vertical acceleration",
  "F2 Body  leading end vertical acceleration",
  "F2 Body  trailing end vertical acceleration",
];
const seriesColors = ["#ff0000", "#0000ff", "#00ffff", "#00ff00", "#ffff00", "#ff00ff"];
const seriesData = [f1Lead, f1Trail, f2Cg, f1Cg, f2Lead, f2Trail];

const xTicks = [900, 950, 1000, 1050, 1100, 1150, 1200, 1250, 1300, 1350];
const yTicks = [0.5, 0.4, 0.3, 0.2, 0.1, 0, -0.1, -0.2, -0.3, -0.4, -0.5, -0.6];
const yTickLabels = [".5", ".4", ".3", ".2", ".1", "0", "-.1", "-.2", "-.3", "-.4", "-.5", "-.6"];
const xDomain: [number, number] = [860.8, 1396.6];
const yDomain: [number, number] = [-0.6208, 0.5264];

const xTitle = "Distance along the Track (feet)";
const yTitle = "Body leading end vertical acceleration (g's)";

// legend layout (row, col, textLength)
const legendRow = [0, 0, 0, 1, 1, 1];
const legendCol = [0, 1, 2, 0, 1, 2];
const legendTextLen = [458, 451, 378, 376, 457, 452];

const FONT = "'Liberation Sans', Arial, Helvetica, sans-serif";

export default function App() {
  const W = 1527, H = 1099;
  const L = 142, R = 1476, T = 90, B = 1003;
  const x = d3.scaleLinear().domain(xDomain).range([L, R]);
  const y = d3.scaleLinear().domain(yDomain).range([B, T]);
  const line = d3
    .line<Pt>()
    .x((d) => x(d[0]))
    .y((d) => y(d[1]))
    .curve(d3.curveMonotoneX);

  const colX = [107, 566, 1025];
  const rowY = [25, 57];

  return (
    <svg
      width={W}
      height={H}
      viewBox={`0 0 ${W} ${H}`}
      style={{ position: "absolute", left: 0, top: 0, background: "#fff" }}
      fontFamily={FONT}
    >
      <rect x={0} y={0} width={W} height={H} fill="#ffffff" />
      {/* outer green frame */}
      <rect x={0} y={0} width={W} height={3} fill="#c1e8c9" />
      <rect x={1521} y={0} width={6} height={H} fill="#c1e8c9" />

      <defs>
        <clipPath id="plotClip">
          <rect x={L} y={T} width={R - L} height={B - T} />
        </clipPath>
      </defs>

      {/* grid */}
      {xTicks.map((t) => (
        <line key={"gx" + t} x1={x(t)} x2={x(t)} y1={T} y2={B} stroke="#c4c4c4" strokeWidth={1} strokeDasharray="2,2" />
      ))}
      {yTicks.map((t) => (
        <line key={"gy" + t} x1={L} x2={R} y1={y(t)} y2={y(t)} stroke="#c4c4c4" strokeWidth={1} strokeDasharray="2,2" />
      ))}

      {/* series */}
      <g clipPath="url(#plotClip)">
        {seriesData.map((d, i) => (
          <path key={"s" + i} d={line(d) || ""} fill="none" stroke={seriesColors[i]} strokeWidth={1.7} strokeLinejoin="round" />
        ))}
      </g>

      {/* frame */}
      <line x1={L} x2={R} y1={T} y2={T} stroke="#111" strokeWidth={1.5} />
      <line x1={R} x2={R} y1={T} y2={B + 1} stroke="#333" strokeWidth={2.5} />
      <line x1={L} x2={L} y1={T} y2={B} stroke="#444" strokeWidth={2} />
      <line x1={L - 1} x2={R} y1={B} y2={B} stroke="#444" strokeWidth={2} />

      {/* y ticks */}
      {yTicks.map((t, i) => (
        <g key={"yt" + t}>
          <line x1={L - 9} x2={L} y1={y(t)} y2={y(t)} stroke="#444" strokeWidth={1.5} />
          <text x={124} y={y(t)} dy="0.36em" textAnchor="end" fontSize={31} fill="#000">
            {yTickLabels[i]}
          </text>
        </g>
      ))}

      {/* x ticks */}
      {xTicks.map((t) => (
        <g key={"xt" + t}>
          <line x1={x(t)} x2={x(t)} y1={B} y2={B + 12} stroke="#444" strokeWidth={1.5} />
          <text x={x(t)} y={1048} textAnchor="middle" fontSize={35} fill="#000">
            {t}
          </text>
        </g>
      ))}

      {/* axis titles */}
      <text x={809} y={1091} textAnchor="middle" fontSize={34} fill="#000" textLength={518} lengthAdjust="spacingAndGlyphs">
        {xTitle}
      </text>
      <text
        transform={`translate(41, 545) rotate(-90)`}
        textAnchor="middle"
        fontSize={32}
        fill="#000"
        textLength={620}
        lengthAdjust="spacingAndGlyphs"
      >
        {yTitle}
      </text>

      {/* legend */}
      {seriesLabels.map((lab, i) => {
        const cx = colX[legendCol[i]];
        const cy = rowY[legendRow[i]];
        return (
          <g key={"lg" + i}>
            <line x1={cx} x2={cx + 31} y1={cy} y2={cy} stroke={seriesColors[i]} strokeWidth={1.5} />
            <text
              x={cx + 35}
              y={cy + 6.7}
              fontSize={19}
              fill="#000"
              textLength={legendTextLen[i]}
              lengthAdjust="spacingAndGlyphs"
              style={{ whiteSpace: "pre" }}
            >
              {lab}
            </text>
          </g>
        );
      })}
    </svg>
  );
}
